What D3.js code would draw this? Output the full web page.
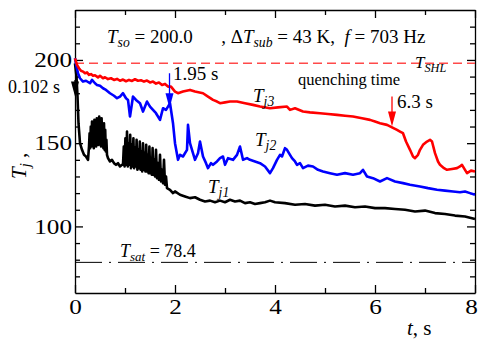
<!DOCTYPE html>
<html>
<head>
<meta charset="utf-8">
<script src="https://cdn.jsdelivr.net/npm/d3@7/dist/d3.min.js"></script>
<style>
  body { margin: 0; background: #fff; }
  svg { display: block; font-family: 'Liberation Serif', 'Times New Roman', serif; }
  text { white-space: pre; }
  .axis path, .axis line { stroke: #000; stroke-width: 1.3; }
  .axis text { font-size: 21px; fill: #000; font-family: 'Liberation Serif', serif;
    transform-box: fill-box; transform-origin: center; transform: scaleX(1.2); }
  .yaxis text { transform-origin: right; }
</style>
</head>
<body>
<svg id="chart"></svg>
<script>
// data: [t (s), T (deg)]
const tj1 = [
  [0, 198], [0.03, 190], [0.05, 178], [0.07, 162], [0.1, 150], [0.14, 146], [0.18, 143],
  [0.22, 142], [0.26, 140],
  [0.28, 148], [0.292, 156], [0.304, 147], [0.316, 160], [0.328, 148], [0.34, 163], [0.352, 149],
  [0.364, 158], [0.376, 147], [0.388, 164], [0.4, 150], [0.412, 161], [0.424, 148], [0.436, 165],
  [0.448, 151], [0.46, 162], [0.472, 149], [0.484, 166], [0.496, 150], [0.508, 163], [0.52, 148],
  [0.532, 165], [0.544, 150], [0.556, 161], [0.568, 147], [0.58, 162], [0.592, 146], [0.604, 158],
  [0.616, 145], [0.628, 152], [0.64, 143],
  [0.66, 141], [0.7, 139], [0.74, 140], [0.78, 138], [0.82, 137], [0.86, 138], [0.9, 136], [0.94, 137],
  [0.96, 137], [0.976, 148], [0.992, 136], [1.008, 153], [1.024, 137], [1.04, 157], [1.056, 136],
  [1.072, 150], [1.088, 137], [1.104, 155], [1.12, 135], [1.136, 149], [1.152, 136], [1.168, 153],
  [1.184, 135], [1.2, 147], [1.216, 136], [1.232, 152], [1.248, 134], [1.264, 146], [1.28, 135],
  [1.296, 151], [1.312, 134], [1.328, 145], [1.344, 133], [1.36, 150], [1.376, 134], [1.392, 144],
  [1.408, 133], [1.424, 149], [1.44, 133], [1.456, 143], [1.472, 132], [1.488, 148], [1.504, 132],
  [1.52, 141], [1.536, 131], [1.552, 147], [1.568, 131], [1.584, 140], [1.6, 130], [1.62, 146],
  [1.64, 129], [1.66, 138], [1.68, 128], [1.7, 143], [1.72, 127], [1.74, 134], [1.76, 126],
  [1.78, 140], [1.8, 125], [1.82, 130], [1.84, 123],
  [1.9, 122], [1.96, 120], [2.0, 121], [2.1, 119], [2.2, 118], [2.3, 117], [2.4, 117.5], [2.5, 116],
  [2.6, 115], [2.7, 115.5], [2.8, 114.5], [2.9, 115.5], [3.0, 114.5], [3.1, 116], [3.2, 115],
  [3.3, 115.5], [3.4, 114], [3.5, 114.5], [3.6, 113.5], [3.7, 114], [3.8, 114.5], [3.9, 115.5],
  [4.0, 114.5], [4.2, 114], [4.4, 113], [4.6, 113.5], [4.8, 112.5], [5.0, 113], [5.2, 112],
  [5.4, 112.5], [5.6, 111.5], [5.8, 112], [6.0, 111], [6.2, 111], [6.4, 110.5], [6.6, 110],
  [6.8, 109], [7.0, 109.5], [7.2, 108], [7.4, 107.5], [7.6, 106.5], [7.8, 106], [8, 104.5]
];
const tj2 = [
  [0, 201], [0.03, 196], [0.06, 192], [0.1, 189], [0.16, 187], [0.22, 187.5], [0.3, 186],
  [0.34, 188], [0.4, 186], [0.44, 185], [0.5, 184.5], [0.56, 183], [0.62, 182], [0.7, 180],
  [0.78, 178.5], [0.84, 177], [0.9, 178], [0.96, 180], [1.02, 177], [1.06, 176], [1.1, 166],
  [1.16, 178], [1.22, 176], [1.3, 174], [1.36, 169], [1.44, 175], [1.5, 172], [1.56, 170],
  [1.62, 168], [1.7, 164], [1.76, 171], [1.82, 170], [1.86, 172], [1.9, 174], [1.96, 162],
  [2.0, 150], [2.06, 140], [2.1, 143], [2.16, 142], [2.24, 146], [2.26, 161], [2.3, 150],
  [2.34, 146], [2.4, 140], [2.46, 144], [2.5, 151], [2.56, 142], [2.62, 138], [2.66, 135],
  [2.72, 138], [2.76, 137], [2.84, 139], [2.9, 141], [2.96, 142], [3.0, 137], [3.06, 141],
  [3.16, 140], [3.24, 143], [3.3, 148], [3.36, 140], [3.44, 141], [3.5, 140], [3.6, 139],
  [3.7, 138], [3.8, 136], [3.9, 132], [3.96, 135], [4.04, 140], [4.1, 143], [4.14, 142],
  [4.2, 147], [4.24, 146], [4.3, 143], [4.34, 141], [4.4, 139], [4.44, 137], [4.5, 138],
  [4.56, 135], [4.66, 136.5], [4.76, 136], [4.86, 134], [4.96, 133], [5.1, 132], [5.24, 131],
  [5.4, 132], [5.56, 131], [5.7, 132], [5.76, 134], [5.84, 130], [5.96, 129], [6.1, 127],
  [6.24, 129], [6.4, 127], [6.56, 126], [6.7, 125], [6.9, 124], [7.06, 123], [7.24, 122],
  [7.4, 121.5], [7.56, 121], [7.7, 120.5], [7.8, 121], [7.9, 120], [8, 119]
];
const tj3 = [
  [0, 201], [0.04, 197], [0.08, 195], [0.12, 193.5], [0.16, 193], [0.2, 192], [0.24, 192.5],
  [0.28, 191], [0.32, 191.5], [0.36, 190.5], [0.4, 190.8], [0.46, 189.5], [0.5, 190.5],
  [0.56, 189], [0.6, 189.6], [0.66, 188.5], [0.72, 189], [0.78, 188], [0.84, 188.6], [0.9, 187.5],
  [0.96, 188.2], [1.02, 187.2], [1.08, 188], [1.14, 187.4], [1.2, 188.4], [1.26, 187.5],
  [1.32, 187.8], [1.38, 187], [1.44, 187.6], [1.5, 186.5], [1.56, 187], [1.62, 185.8],
  [1.68, 186.4], [1.74, 185], [1.8, 185.6], [1.86, 184], [1.92, 184],
  [2.0, 181], [2.06, 180], [2.16, 181], [2.3, 182], [2.4, 181],
  [2.56, 180], [2.66, 178], [2.76, 176], [2.84, 175], [2.9, 174], [3.0, 174.5], [3.1, 175],
  [3.24, 175], [3.4, 174], [3.56, 173], [3.7, 172], [3.9, 171], [4.06, 171.5], [4.24, 172],
  [4.3, 170], [4.4, 171], [4.56, 169], [4.7, 168.5], [4.9, 168], [5.06, 167.5], [5.24, 167],
  [5.4, 166.5], [5.56, 166], [5.74, 165], [5.9, 164], [6.0, 163], [6.1, 162], [6.24, 161],
  [6.34, 159.5], [6.44, 158], [6.5, 157], [6.56, 156], [6.62, 151], [6.7, 146], [6.76, 142],
  [6.8, 141], [6.86, 143], [6.9, 146], [6.96, 149], [7.04, 151], [7.1, 152], [7.14, 151],
  [7.2, 144], [7.26, 139], [7.3, 137], [7.38, 135], [7.44, 134], [7.54, 134.5], [7.64, 135],
  [7.7, 136], [7.74, 137], [7.8, 134], [7.84, 132], [7.92, 133.5], [8, 133]
];
const tSat = 78.4;
const tShl = 198;
const xMajor = [0, 2, 4, 6, 8];
const xMinor = [1, 3, 5, 7];
const yMajor = [100, 150, 200];
const yMinor = [70, 80, 90, 110, 120, 130, 140, 160, 170, 180, 190, 210, 220];

const W = 479, H = 341;
const margin = { top: 10, right: 4, bottom: 48, left: 75 };
const width = W - margin.left - margin.right;
const height = H - margin.top - margin.bottom;

const svg = d3.select('#chart').attr('width', W).attr('height', H);
const g = svg.append('g').attr('transform', 'translate(' + margin.left + ',' + margin.top + ')');

const x = d3.scaleLinear().domain([0, 8]).range([0, width]);
const y = d3.scaleLinear().domain([60, 230]).range([height, 0]);

// axes, ticks pointing inward
function addAxis(axisFn, ticks, size, labels, transform, cls) {
  const a = axisFn.tickValues(ticks).tickSizeInner(-size).tickSizeOuter(0).tickPadding(labels ? 6 : 0);
  if (!labels) a.tickFormat('');
  const sel = g.append('g').attr('class', 'axis ' + (cls || ''));
  if (transform) sel.attr('transform', transform);
  sel.call(a);
  return sel;
}
const xb = addAxis(d3.axisBottom(x), xMajor, 8, true, 'translate(0,' + height + ')');
xb.selectAll('text').filter(d => d === 8).attr('x', -4);
addAxis(d3.axisBottom(x), xMinor, 5, false, 'translate(0,' + height + ')').select('.domain').remove();
addAxis(d3.axisTop(x), xMajor, 8, false);
addAxis(d3.axisTop(x), xMinor, 5, false).select('.domain').remove();
const yl = addAxis(d3.axisLeft(y), yMajor, 8, true, null, 'yaxis');
yl.selectAll('text').attr('x', -3);
addAxis(d3.axisLeft(y), yMinor, 5, false).select('.domain').remove();
addAxis(d3.axisRight(y), yMajor, 8, false, 'translate(' + width + ',0)');
addAxis(d3.axisRight(y), yMinor, 5, false, 'translate(' + width + ',0)').select('.domain').remove();

// reference lines
g.append('line')
  .attr('x1', x(0)).attr('x2', x(8)).attr('y1', y(tSat)).attr('y2', y(tSat))
  .attr('stroke', '#000').attr('stroke-width', 1).attr('stroke-dasharray', '27,7,2,7');
g.append('line')
  .attr('x1', x(0)).attr('x2', x(8)).attr('y1', y(tShl)).attr('y2', y(tShl))
  .attr('stroke', '#ff4a4a').attr('stroke-width', 1.3).attr('stroke-dasharray', '9,5');

const line = d3.line().x(d => x(d[0])).y(d => y(d[1]));
[[tj1, '#000'], [tj2, '#0000ff'], [tj3, '#ff0000']].forEach(([data, color]) => {
  g.append('path').datum(data)
    .attr('fill', 'none').attr('stroke', color).attr('stroke-width', 2.6)
    .attr('stroke-linejoin', 'round').attr('d', line);
});

// arrows
function arrow(t, y0, y1, color) {
  const xp = x(t), a = y(y0), b = y(y1);
  g.append('line').attr('x1', xp).attr('x2', xp).attr('y1', a).attr('y2', b - 12)
    .attr('stroke', color).attr('stroke-width', 1.3);
  g.append('path')
    .attr('d', 'M' + (xp - 4) + ',' + (b - 15) + 'L' + (xp + 4) + ',' + (b - 15) + 'L' + xp + ',' + b + 'Z')
    .attr('fill', color);
}
arrow(0.0, 188, 178, '#000');
arrow(1.89, 192, 171, '#0000ff');
arrow(6.34, 178, 160, '#ff0000');

// text helpers
function label(px, py, parts, size, anchor) {
  const t = svg.append('text').attr('x', px).attr('y', py)
    .attr('font-size', size).attr('text-anchor', anchor || 'start');
  parts.forEach(p => {
    const s = t.append('tspan').text(p.t);
    if (p.i) s.attr('font-style', 'italic');
    if (p.sub) s.attr('font-size', size * 0.72).attr('dy', p.dy || 4);
    if (p.up) s.attr('dy', -p.up);
  });
  return t;
}
label(107, 43, [{ t: 'T', i: 1 }, { t: 'so', i: 1, sub: 1 }, { t: ' = 200.0      , Δ', up: 4 }, { t: 'T', i: 1 },
  { t: 'sub', i: 1, sub: 1 }, { t: ' = 43 K,  ', up: 4 }, { t: 'f', i: 1 }, { t: ' = 703 Hz' }], 19);
label(173, 80, [{ t: '1.95 s' }], 19);
label(8, 93, [{ t: '0.102 s' }], 18);
label(397, 108, [{ t: '6.3 s' }], 19);
label(298, 85, [{ t: 'quenching time' }], 16.5);
label(415, 68, [{ t: 'T', i: 1 }, { t: 'SHL', i: 1, sub: 1 }], 17);
label(253, 102, [{ t: 'T', i: 1 }, { t: 'j3', i: 1, sub: 1 }], 19);
label(255, 146, [{ t: 'T', i: 1 }, { t: 'j2', i: 1, sub: 1 }], 19);
label(208, 193, [{ t: 'T', i: 1 }, { t: 'j1', i: 1, sub: 1 }], 19);
label(120, 257, [{ t: 'T', i: 1 }, { t: 'sat', i: 1, sub: 1 }, { t: ' = 78.4', up: 4 }], 18);
label(407, 335, [{ t: 't', i: 1 }, { t: ', s' }], 21);

svg.append('text').attr('transform', 'translate(26,179) rotate(-90)')
  .attr('font-size', 21)
  .call(t => {
    t.append('tspan').attr('font-style', 'italic').text('T');
    t.append('tspan').attr('font-style', 'italic').attr('font-size', 15).attr('dy', 4).text('j');
    t.append('tspan').attr('dy', -4).text(' ,');
  });
</script>
</body>
</html>
